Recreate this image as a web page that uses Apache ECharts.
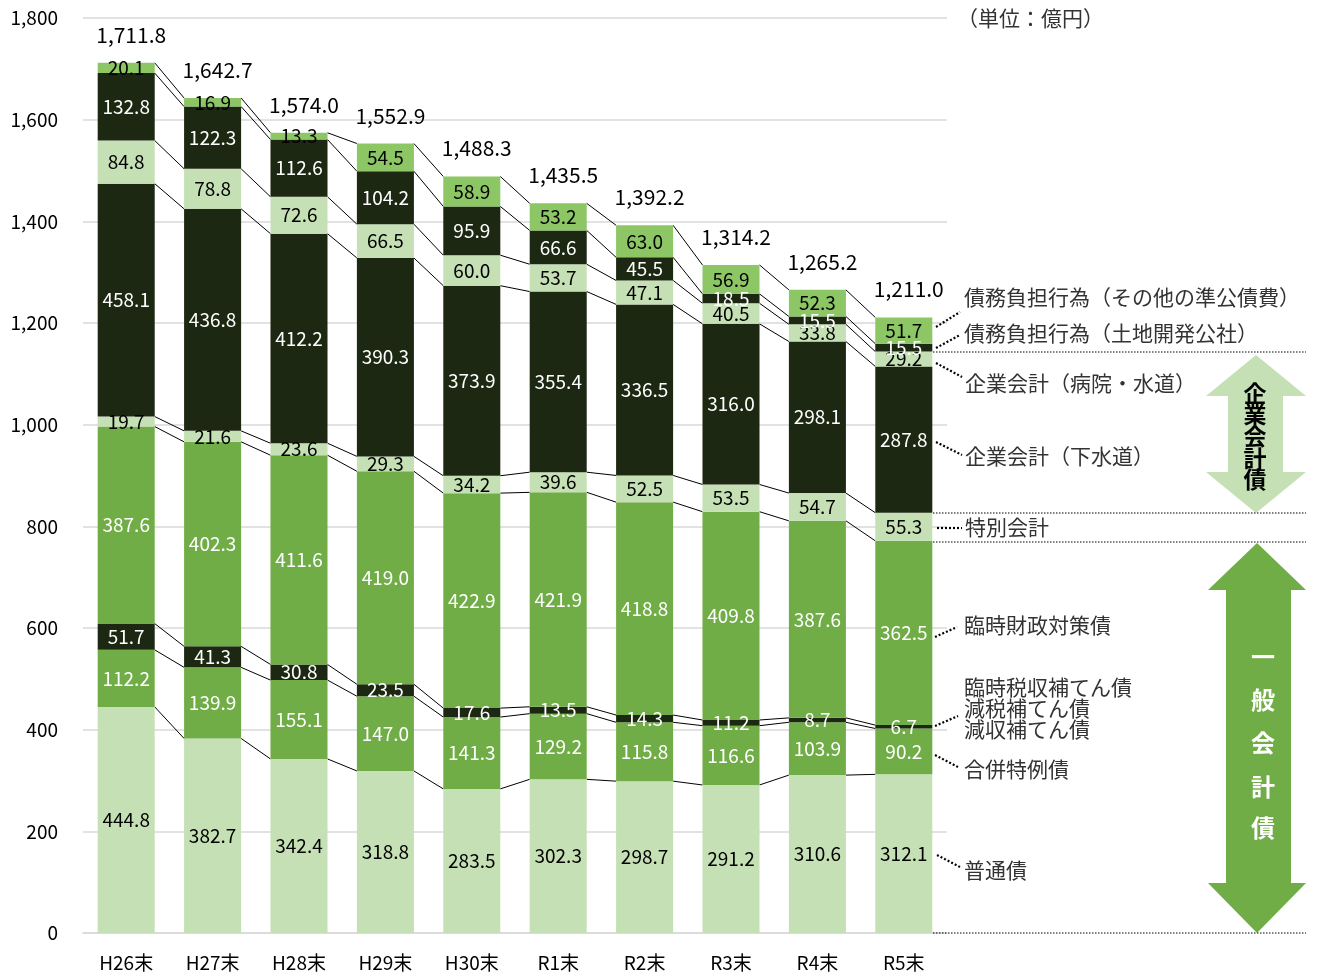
<!DOCTYPE html>
<html><head><meta charset="utf-8">
<script src="https://cdn.jsdelivr.net/npm/echarts@6/dist/echarts.min.js"></script>
<style>html,body{margin:0;padding:0;background:#fff}#c{width:1319px;height:975px}</style>
</head><body><div id="c"></div>
<script>
const categories = ['H26末','H27末','H28末','H29末','H30末','R1末','R2末','R3末','R4末','R5末'];
const futsu      = [444.8,382.7,342.4,318.8,283.5,302.3,298.7,291.2,310.6,312.1];
const gappei     = [112.2,139.9,155.1,147.0,141.3,129.2,115.8,116.6,103.9,90.2];
const hotenn     = [51.7,41.3,30.8,23.5,17.6,13.5,14.3,11.2,8.7,6.7];
const rinzai     = [387.6,402.3,411.6,419.0,422.9,421.9,418.8,409.8,387.6,362.5];
const tokubetsu  = [19.7,21.6,23.6,29.3,34.2,39.6,52.5,53.5,54.7,55.3];
const gesuido    = [458.1,436.8,412.2,390.3,373.9,355.4,336.5,316.0,298.1,287.8];
const byoin      = [84.8,78.8,72.6,66.5,60.0,53.7,47.1,40.5,33.8,29.2];
const tochi      = [132.8,122.3,112.6,104.2,95.9,66.6,45.5,18.5,15.5,15.5];
const sonota     = [20.1,16.9,13.3,54.5,58.9,53.2,63.0,56.9,52.3,51.7];
const totals     = ['1,711.8','1,642.7','1,574.0','1,552.9','1,488.3','1,435.5','1,392.2','1,314.2','1,265.2','1,211.0'];
const totalVals  = [1711.8,1642.7,1574.0,1552.9,1488.3,1435.5,1392.2,1314.2,1265.2,1211.0];
const yTicks     = [0,200,400,600,800,1000,1200,1400,1600,1800];

const LIGHT='#c5e0b4', MID='#70ad47', DARK='#1c2811', TOP='#8cc665';
const FONT='"Noto Sans CJK JP", "Noto Sans", sans-serif';

const seriesDefs = [
  {name:'普通債', data:futsu, color:LIGHT, text:'#000'},
  {name:'合併特例債', data:gappei, color:MID, text:'#fff'},
  {name:'臨時税収補てん債等', data:hotenn, color:DARK, text:'#fff'},
  {name:'臨時財政対策債', data:rinzai, color:MID, text:'#fff'},
  {name:'特別会計', data:tokubetsu, color:LIGHT, text:'#000'},
  {name:'企業会計（下水道）', data:gesuido, color:DARK, text:'#fff'},
  {name:'企業会計（病院・水道）', data:byoin, color:LIGHT, text:'#000'},
  {name:'債務負担行為（土地開発公社）', data:tochi, color:DARK, text:'#fff'},
  {name:'債務負担行為（その他の準公債費）', data:sonota, color:TOP, text:'#000'}
];

// cumulative boundaries
const cum = [];
let run = categories.map(()=>0);
seriesDefs.forEach(s=>{ run = run.map((v,i)=>v+s.data[i]); cum.push(run.slice()); });

const BARW = 0.66;
const series = seriesDefs.map(s=>({
  name:s.name, type:'bar', stack:'all', barWidth:(BARW*100)+'%', data:s.data,
  itemStyle:{color:s.color}, z:3,
  label:{show:true, position:'inside', color:s.text, fontFamily:FONT, fontSize:19,
    formatter:p=>Number(p.value).toFixed(1)},
  emphasis:{disabled:true}
}));

series.push({
  type:'custom', name:'connectors', z:2, silent:true,
  data:categories.slice(0,-1).map((c,i)=>[i,0]),
  encode:{x:0,y:1},
  renderItem:(params, api)=>{
    const i = api.value(0);
    const half = api.size([1,0])[0]*BARW/2;
    const children = cum.map(arr=>{
      const p1 = api.coord([i, arr[i]]);
      const p2 = api.coord([i+1, arr[i+1]]);
      return {type:'line', shape:{x1:p1[0]+half, y1:p1[1], x2:p2[0]-half, y2:p2[1]},
        style:{stroke:'#000', lineWidth:1}};
    });
    return {type:'group', children};
  }
});

series.push({
  type:'custom', name:'totals', z:5, silent:true,
  data:totalVals.map((v,i)=>[i,v]),
  encode:{x:0,y:1},
  renderItem:(params, api)=>{
    const i = api.value(0);
    const p = api.coord([i, api.value(1)]);
    return {type:'text', x:p[0]+5, y:p[1]-28,
      style:{text:totals[i], fill:'#000', font:'21px '+FONT, align:'center', verticalAlign:'middle'}};
  }
});

const txt = (x,y,t,opt={})=>({type:'text', x, y, z:10, style:Object.assign({text:t, fill:'#333', font:'21px '+FONT, align:'left', verticalAlign:'middle'}, opt)});
const dot = (x1,y1,x2,y2,w=2.2,d=[2,2])=>({type:'line', z:10, shape:{x1,y1,x2,y2}, style:{stroke:'#000', lineWidth:w, lineDash:d}});

const graphics = [
  txt(957,18,'（単位：億円）'),
  txt(964,297,'債務負担行為（その他の準公債費）'), dot(936,327,960,312),
  txt(964,333,'債務負担行為（土地開発公社）'), dot(936,348,960,335),
  dot(933,352,1306,352,1,[1.5,1.5]),
  txt(965,383,'企業会計（病院・水道）'), dot(936,363,962,377),
  txt(965,456,'企業会計（下水道）'), dot(936,442,962,455),
  dot(933,513,1306,513,1,[1.5,1.5]),
  txt(965,527,'特別会計'), dot(937,528,962,528),
  dot(933,542,1306,542,1,[1.5,1.5]),
  txt(964,625,'臨時財政対策債'), dot(935,637,957,627),
  txt(964,687,'臨時税収補てん債'), txt(964,708,'減税補てん債'), txt(964,729,'減収補てん債'),
  dot(935,726,958,716),
  txt(964,769,'合併特例債'), dot(935,755,958,767),
  txt(964,870,'普通債'), dot(937,855,960,867),
  dot(933,933,1306,933,1,[1.5,1.5]),
  {type:'polygon', z:8, shape:{points:[[1256,355],[1306,396],[1283,396],[1283,472],[1306,472],[1256,513],[1206,472],[1228,472],[1228,396],[1206,396]]}, style:{fill:LIGHT}},
  {type:'polygon', z:8, shape:{points:[[1257,543],[1306,590],[1291,590],[1291,883],[1306,883],[1257,933],[1208,883],[1226,883],[1226,590],[1208,590]]}, style:{fill:MID}}
];
'企業会計債'.split('').forEach((ch,k)=>graphics.push(txt(1255,393+k*21.6,ch,{fill:'#000', font:'bold 23px '+FONT, align:'center'})));
const ippanY=[657,700,743,787,828];
'一般会計債'.split('').forEach((ch,k)=>graphics.push(txt(1263,ippanY[k],ch,{fill:'#fff', font:'bold 24px '+FONT, align:'center'})));

const chart = echarts.init(document.getElementById('c'), null, {renderer:'canvas'});
chart.setOption({
  animation:false,
  backgroundColor:'#fff',
  grid:{left:83, right:372, top:18, bottom:42, containLabel:false},
  xAxis:{type:'category', data:categories,
    axisLine:{show:true, lineStyle:{color:'#d9d9d9', width:1.5}}, axisTick:{show:false},
    axisLabel:{color:'#000', fontFamily:FONT, fontSize:19, margin:20}},
  yAxis:{type:'value', min:0, max:1800, interval:200,
    axisLine:{show:false}, axisTick:{show:false},
    splitLine:{lineStyle:{color:'#d9d9d9', width:1.5}},
    axisLabel:{color:'#000', fontFamily:FONT, fontSize:19, margin:25,
      formatter:v=> yTicks.includes(v) ? v.toLocaleString('en-US') : ''}},
  series,
  graphic:graphics
});
</script></body></html>
